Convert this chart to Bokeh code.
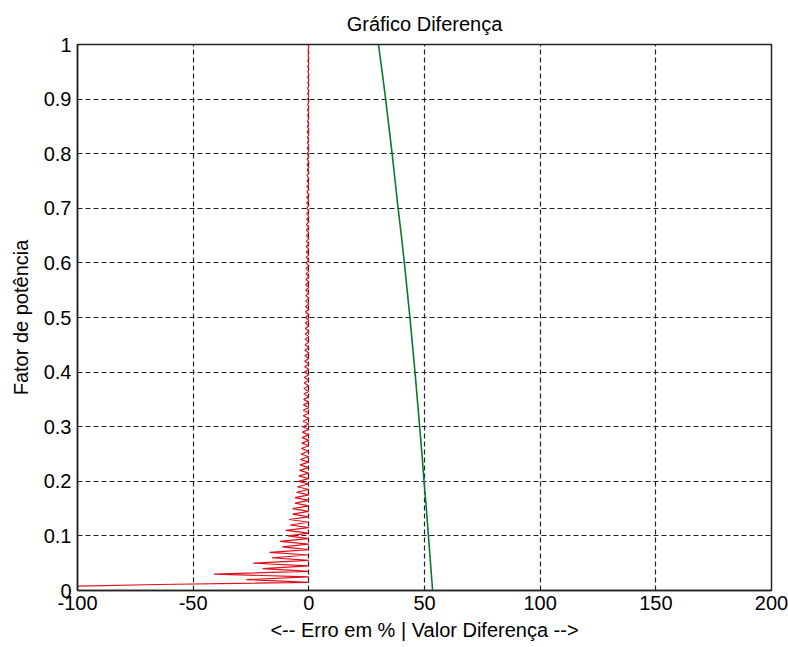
from bokeh.plotting import figure
from bokeh.models import Range1d, FixedTicker, Title
from bokeh.embed import file_html
from bokeh.resources import INLINE

# ---- data ----
x_ticks = [-100, -50, 0, 50, 100, 150, 200]
x_tick_labels = ["-100", "-50", "0", "50", "100", "150", "200"]
y_ticks = [0, 0.1, 0.2, 0.3, 0.4, 0.5, 0.6, 0.7, 0.8, 0.9, 1]
y_tick_labels = ["0", "0.1", "0.2", "0.3", "0.4", "0.5", "0.6", "0.7", "0.8", "0.9", "1"]

# green: "Valor Diferença" vs power factor
green_pf = [0.0, 0.05, 0.1, 0.15, 0.2, 0.25, 0.3, 0.35, 0.4, 0.45, 0.5,
            0.55, 0.6, 0.65, 0.7, 0.75, 0.8, 0.85, 0.9, 0.95, 1.0]
green_val = [53.5, 52.6, 51.7, 50.8, 49.8, 48.9, 47.9, 46.9, 45.9, 44.8, 43.7,
             42.5, 41.3, 40.0, 38.6, 37.3, 36.0, 34.6, 33.2, 31.7, 30.1]

# red: "Erro em %" zigzag; start points then tips (pf 0.02..1.00) and returns
red_start_pf = [0.008, 0.011, 0.015]
red_start_err = [-100, -65, 0.0]
red_tip_pf = [round(0.01 * k, 3) for k in range(2, 101)]
red_tip_err = [-27, -41, -20, -24, -16, -17, -11.5, -12.5, -9,
               -10, -8, -8.5, -7, -7, -6, -6, -5.3, -5, -4.5,
               -4.3, -4, -3.8, -3.6, -3.4, -3.2, -3.0, -2.9, -2.8, -2.6,
               -2.5, -2.4, -2.4, -2.3, -2.2, -2.1, -2.1, -2.0, -2.0, -1.9,
               -1.8, -1.8, -1.7, -1.7, -1.6, -1.6, -1.6, -1.5, -1.5, -1.5,
               -1.4, -1.4, -1.4, -1.3, -1.3, -1.3, -1.2, -1.2, -1.2, -1.2,
               -1.1, -1.1, -1.1, -1.0, -1.0, -1.0, -1.0, -0.9, -0.9, -0.9,
               -0.9, -0.9, -0.8, -0.8, -0.8, -0.8, -0.7, -0.7, -0.7, -0.7,
               -0.6, -0.6, -0.6, -0.6, -0.6, -0.6, -0.5, -0.5, -0.5, -0.5,
               -0.5, -0.5, -0.4, -0.4, -0.4, -0.4, -0.4, -0.3, -0.3, -0.3]
red_back_pf = [round(0.01 * k + 0.005, 3) for k in range(2, 101)]
red_back_err = [0.0] * 99

# assemble the zigzag path (start, then tip/return alternating)
red_pf = list(red_start_pf)
red_err = list(red_start_err)
for tp, te, bp, be in zip(red_tip_pf, red_tip_err, red_back_pf, red_back_err):
    red_pf += [tp, bp]
    red_err += [te, be]

FONT = "Liberation Sans"
FS = "20px"

p = figure(width=788, height=647, output_backend="svg", toolbar_location=None,
           x_range=Range1d(-100, 200), y_range=Range1d(0, 1),
           min_border_left=77, min_border_right=17, min_border_top=44,
           min_border_bottom=57, background_fill_color="white",
           border_fill_color="white")
p.title = None
t = Title(text="Gráfico Diferença", align="center", text_font=FONT,
          text_font_size=FS, text_font_style="normal", text_color="black",
          standoff=19)
p.add_layout(t, "above")

p.line(red_err, red_pf, line_color="#e0101c", line_width=1.2)
p.line(green_val, green_pf, line_color="#0a7a2a", line_width=1.6)

p.xaxis.ticker = FixedTicker(ticks=x_ticks)
p.yaxis.ticker = FixedTicker(ticks=y_ticks)
p.xaxis.major_label_overrides = {v: s for v, s in zip(x_ticks, x_tick_labels)}
p.yaxis.major_label_overrides = {v: s for v, s in zip(y_ticks, y_tick_labels)}

for ax in (p.xaxis[0], p.yaxis[0]):
    ax.major_label_text_font = FONT
    ax.major_label_text_font_size = FS
    ax.major_label_text_color = "black"
    ax.axis_label_text_font = FONT
    ax.axis_label_text_font_size = FS
    ax.axis_label_text_font_style = "normal"
    ax.axis_label_text_color = "black"
    ax.major_tick_out = 0
    ax.major_tick_in = 0
    ax.minor_tick_out = 0
    ax.minor_tick_in = 0
    ax.axis_line_color = "#222222"
    ax.axis_line_width = 1.5

p.xaxis.axis_label = "<-- Erro em % | Valor Diferença -->"
p.yaxis.axis_label = "Fator de potência"
p.xaxis.major_label_standoff = 5
p.xaxis.axis_label_standoff = 6
p.yaxis.major_label_standoff = 6
p.yaxis.axis_label_standoff = 9

p.outline_line_color = "#222222"
p.outline_line_width = 1.5
p.grid.grid_line_color = "#222222"
p.grid.grid_line_dash = "5 3"
p.grid.grid_line_width = 1.2
p.grid.grid_line_alpha = 1.0

open("out.html", "w").write(file_html(p, INLINE))
